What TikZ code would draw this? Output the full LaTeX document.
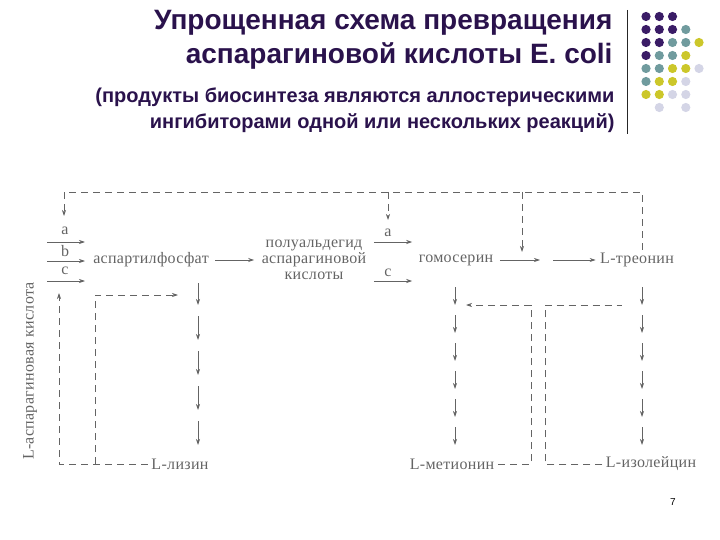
\documentclass[tikz,border=0pt]{standalone}
\usepackage{fontspec}
\setmainfont{Liberation Serif}
\newfontfamily\headFont{Liberation Sans}
\newfontfamily\schemeFont[LetterSpace=2]{Liberation Serif}
\usetikzlibrary{arrows.meta}

\definecolor{headPurple}{RGB}{42,18,76}
\definecolor{dotPurple}{RGB}{58,28,102}
\definecolor{dotTeal}{RGB}{112,155,158}
\definecolor{dotYellow}{RGB}{204,199,42}
\definecolor{dotLilac}{RGB}{212,213,230}
\definecolor{schemeGray}{RGB}{100,100,100}

\newcommand{\mainRow}{260}
\newcommand{\topLine}{192}
\newcommand{\productRow}{464}
\newcommand{\lysX}{198}
\newcommand{\metX}{455}
\newcommand{\ileX}{642}
\newcommand{\dotR}{4.6}

\begin{document}
\begin{tikzpicture}[x=1pt,y=-1pt,
    every node/.style={text=schemeGray,font=\schemeFont\fontsize{16}{16}\selectfont},
    headline/.style={anchor=east,text=headPurple,font=\headFont\bfseries\fontsize{28}{30}\selectfont},
    subline/.style={anchor=east,text=headPurple,font=\headFont\bfseries\fontsize{20}{22}\selectfont},
    arr/.style={draw=schemeGray,line width=0.7pt,-{Stealth[length=6pt,width=4pt]}},
    fb/.style={draw=schemeGray,line width=0.7pt,dash pattern=on 7pt off 5pt},
    fbarr/.style={fb,-{Stealth[length=6pt,width=4pt]}}]
\useasboundingbox (0,0) rectangle (720,540);

% heading
\node[headline] (title1) at (616,23) {Упрощенная схема превращения};
\node[headline] (title2) at (616,56) {аспарагиновой кислоты E. coli};
\node[subline] (sub1) at (618,97) {(продукты биосинтеза являются аллостерическими};
\node[subline] (sub2) at (618,123) {ингибиторами одной или нескольких реакций)};
\draw[black!85,line width=0.8pt] (627,10) -- (627,134);

% dots
\fill[dotPurple] (646,16.5) circle (\dotR) (659.3,16.5) circle (\dotR) (672.5,16.5) circle (\dotR)
  (646,29.5) circle (\dotR) (659.3,29.5) circle (\dotR) (672.5,29.5) circle (\dotR)
  (646,42.5) circle (\dotR) (659.3,42.5) circle (\dotR) (646,55.5) circle (\dotR);
\fill[dotTeal] (685.8,29.5) circle (\dotR) (672.5,42.5) circle (\dotR) (685.8,42.5) circle (\dotR)
  (659.3,55.5) circle (\dotR) (672.5,55.5) circle (\dotR) (646,68.5) circle (\dotR)
  (659.3,68.5) circle (\dotR) (646,81.5) circle (\dotR);
\fill[dotYellow] (699,42.5) circle (\dotR) (685.8,55.5) circle (\dotR) (672.5,68.5) circle (\dotR)
  (685.8,68.5) circle (\dotR) (659.3,81.5) circle (\dotR) (672.5,81.5) circle (\dotR)
  (646,94.5) circle (\dotR) (659.3,94.5) circle (\dotR);
\fill[dotLilac] (699,68.5) circle (\dotR) (685.8,81.5) circle (\dotR) (672.5,94.5) circle (\dotR)
  (685.8,94.5) circle (\dotR) (659.3,107.5) circle (\dotR) (685.8,107.5) circle (\dotR);

% scheme
\node[rotate=90] (aspAcid) at (30,371) {L-аспарагиновая кислота};
\node (aspP) at (151,\mainRow) {аспартилфосфат};
\node[align=center] (semiAld) at (314,\mainRow) {полуальдегид\\аспарагиновой\\кислоты};
\node (homSer) at (456,\mainRow) {гомосерин};
\node (thr) at (637,\mainRow) {L-треонин};
\node (lys) at (180,\productRow) {L-лизин};
\node (met) at (452,\productRow) {L-метионин};
\node (ile) at (651,\productRow) {L-изолейцин};
\coordinate (homSerP) at (546,\mainRow);

% a, b, c into the first step
\coordinate (inA) at (47,242);
\coordinate (inB) at (47,261);
\coordinate (inC) at (47,281);
\draw[arr] (inA) -- ++(38,0);
\draw[arr] (inB) -- ++(38,0);
\draw[arr] (inC) -- ++(38,0);
\node (labA) at (65,231) {a};
\node (labB) at (65,251) {b};
\node (labC) at (65,271) {c};

\draw[arr,shorten <=3pt,shorten >=4pt] (aspP) -- (semiAld);
\draw[arr,shorten <=4pt,shorten >=3pt] ([yshift=18pt]semiAld.east) -- ([yshift=18pt]homSer.west);
\draw[arr,shorten <=4pt,shorten >=3pt] ([yshift=-21pt]semiAld.east) -- ([yshift=-21pt]homSer.west);
\node (labSA) at (388,233) {a};
\node (labSC) at (388,273) {c};
\draw[arr,shorten <=3pt,shorten >=6pt] (homSer) -- (homSerP);
\draw[arr,shorten <=7pt,shorten >=1pt] (homSerP) -- (thr);

% branch to lysine
\draw[arr] (\lysX,283) -- (\lysX,305);
\draw[arr] (\lysX,316) -- (\lysX,340);
\draw[arr] (\lysX,351) -- (\lysX,375);
\draw[arr] (\lysX,386) -- (\lysX,410);
\draw[arr] (\lysX,421) -- (\lysX,445);

% branch to methionine
\draw[arr] (\metX,287) -- (\metX,305);
\draw[arr] (\metX,315) -- (\metX,333);
\draw[arr] (\metX,343) -- (\metX,361);
\draw[arr] (\metX,371) -- (\metX,389);
\draw[arr] (\metX,399) -- (\metX,417);
\draw[arr] (\metX,427) -- (\metX,445);

% branch to isoleucine
\draw[arr] (\ileX,287) -- (\ileX,305);
\draw[arr] (\ileX,315) -- (\ileX,333);
\draw[arr] (\ileX,343) -- (\ileX,361);
\draw[arr] (\ileX,371) -- (\ileX,389);
\draw[arr] (\ileX,399) -- (\ileX,417);
\draw[arr] (\ileX,427) -- (\ileX,445);

% feedback inhibition
\draw[fbarr] ([xshift=5pt]thr.north) |- (64,\topLine) -- (64,216);
\draw[fbarr] (388,\topLine) -- (388,220);
\draw[fbarr] (522,\topLine) -- (522,252);
\draw[fbarr] (lys.west) -- (59,\productRow) -- (59,293);
\draw[fbarr] (95,\productRow) -- (95,295) -- (178,295);
\draw[fbarr] (met.east) -- (531,\productRow) -- (531,305) -- (466,305);
\draw[fb] (ile.west) -- (545,\productRow) -- (545,305) -- (622,305);

\node[text=black,font=\headFont\fontsize{10}{12}\selectfont] (pageNo) at (673,502) {7};
\end{tikzpicture}
\end{document}
